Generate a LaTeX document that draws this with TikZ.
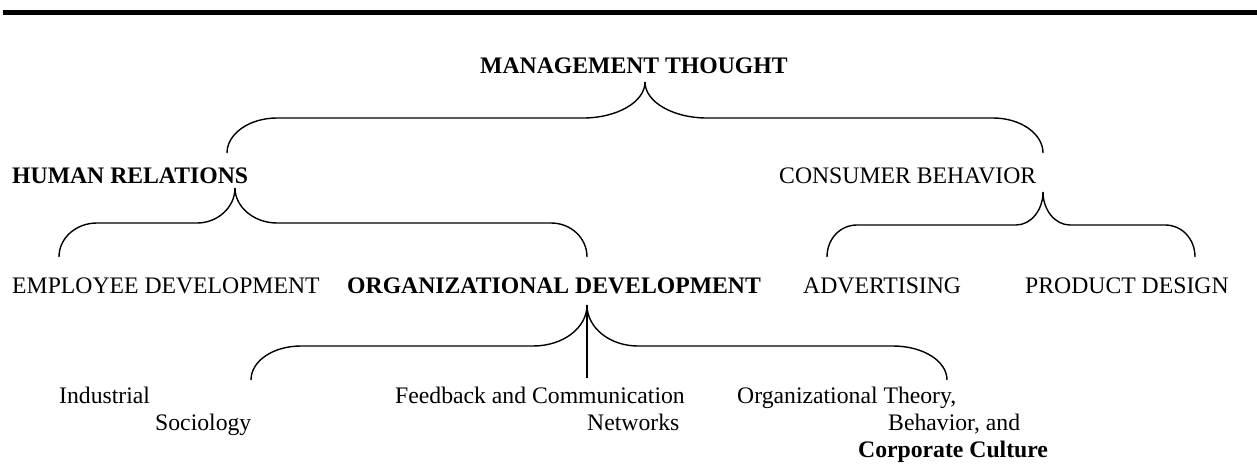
\documentclass[tikz,border=0pt]{standalone}
\usepackage{fontspec}
\setmainfont{Liberation Serif}
\usetikzlibrary{calc}

\tikzset{
  txt/.style={inner sep=0pt, anchor=base west, font=\fontsize{23.7}{28}\selectfont},
  txtb/.style={txt, font=\fontsize{23.7}{28}\selectfont\bfseries},
  brace/.style={line width=1.4pt},
}

\begin{document}
\begin{tikzpicture}[x=1pt,y=-1pt]
	\useasboundingbox (0,0) rectangle (1257,463);
	\draw[line width=5pt] (3,12.5) -- (1257,12.5);

	% levels of the tree
	\node[txtb] (mgmt) at (480,73) {MANAGEMENT THOUGHT};
	\node[txtb] (hr) at (12,183) {HUMAN RELATIONS};
	\node[txt] (cb) at (779,183) {CONSUMER BEHAVIOR};
	\node[txt] (empdev) at (12,293) {EMPLOYEE DEVELOPMENT};
	\node[txtb] (orgdev) at (347,293) {ORGANIZATIONAL DEVELOPMENT};
	\node[txt] (adv) at (803,293) {ADVERTISING};
	\node[txt] (prod) at (1025,293) {PRODUCT DESIGN};
	\node[txt] (ind) at (59,403) {Industrial};
	\node[txt] (soc) at (155,430) {Sociology};
	\node[txt] (fb) at (395,403) {Feedback and Communication};
	\node[txt] (net) at (587,430) {Networks};
	\node[txt] (ot) at (737,403) {Organizational Theory,};
	\node[txt] (beh) at (888,430) {Behavior, and};
	\node[txtb] (cc) at (858,457) {Corporate Culture};

	% brace tips and ends
	\coordinate (b1T) at (645,82);
	\coordinate (b1L) at (227,153);
	\coordinate (b1R) at (1043,153);
	\coordinate (b2T) at (235,188);
	\coordinate (b2L) at (59,257);
	\coordinate (b2R) at (587,257);
	\coordinate (b3T) at (1043,192);
	\coordinate (b3L) at (827,257);
	\coordinate (b3R) at (1195,257);
	\coordinate (b4T) at (587,305);
	\coordinate (b4L) at (251,380);
	\coordinate (b4R) at (947,380);
	\coordinate (b4S) at (587,378);

	% management thought
	\draw[brace] (b1L) .. controls +(0,-19) and +(-28,0) .. ++(50,-35) -- ($(b1T)+(-62,36)$) .. controls +(34,0) and +(0,20) .. (b1T);
	\draw[brace] (b1R) .. controls +(0,-19) and +(28,0) .. ++(-50,-35) -- ($(b1T)+(62,36)$) .. controls +(-34,0) and +(0,20) .. (b1T);
	% human relations
	\draw[brace] (b2L) .. controls +(0,-19) and +(-21,0) .. ++(38,-34) -- ($(b2T)+(-38,35)$) .. controls +(21,0) and +(0,19) .. (b2T);
	\draw[brace] (b2R) .. controls +(0,-19) and +(20,0) .. ++(-36,-34) -- ($(b2T)+(42,35)$) .. controls +(-23,0) and +(0,19) .. (b2T);
	% consumer behavior
	\draw[brace] (b3L) .. controls +(0,-18) and +(-17,0) .. ++(30,-32) -- ($(b3T)+(-27,33)$) .. controls +(15,0) and +(0,18) .. (b3T);
	\draw[brace] (b3R) .. controls +(0,-18) and +(17,0) .. ++(-30,-32) -- ($(b3T)+(27,33)$) .. controls +(-15,0) and +(0,18) .. (b3T);
	% organizational development
	\draw[brace] (b4L) .. controls +(0,-19) and +(-28,0) .. ++(50,-34) -- ($(b4T)+(-54,41)$) .. controls +(30,0) and +(0,23) .. (b4T);
	\draw[brace] (b4R) .. controls +(0,-19) and +(30,0) .. ++(-54,-34) -- ($(b4T)+(51,41)$) .. controls +(-28,0) and +(0,23) .. (b4T);
	\draw[brace] (b4T) -- (b4S);
\end{tikzpicture}
\end{document}
